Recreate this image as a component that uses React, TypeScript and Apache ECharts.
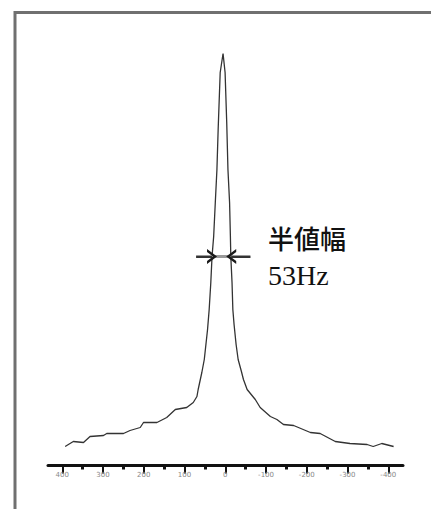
import React, { useEffect, useRef } from "react";
import * as echarts from "echarts";

// Spectrum: frequency offset (Hz) and intensity (arb.)
const freqHz = [
  393, 373, 348, 332, 299, 291, 250, 234, 209, 201, 168, 144, 123, 95, 79, 70, 67, 58, 52, 44,
  40, 36, 33, 29, 25, 21, 18, 13, 6, 1, -3, -6, -10, -12, -13, -16, -18, -21, -26, -31, -39,
  -44, -53, -73, -85, -110, -126, -142, -167, -208, -232, -269, -305, -347, -362, -383, -412,
];
const intensity = [
  19, 24, 23, 29, 30, 32, 32, 35, 38, 43, 43, 48, 56, 58, 63, 69, 76, 93, 106, 136,
  156, 183, 209, 229, 263, 296, 336, 393, 412, 393, 343, 296, 263, 229, 209, 183, 156, 141, 121, 106, 94,
  86, 76, 66, 58, 49, 46, 41, 40, 33, 32, 24, 22, 21, 19, 22, 19,
];
const tickValues = [400, 300, 200, 100, 0, -100, -200, -300, -400];

// Half-width annotation (Hz positions at half height)
const fwhmLevel = 209;
const leftArrow = [72, 33];
const rightArrow = [-61, -14];
const annoTitle = "半値幅";
const annoValue = "53Hz";

const chevron = "path://M0,10 L5,0 L10,10 L8,10 L5,4 L2,10 Z";

export default function App() {
  const ref = useRef<HTMLDivElement>(null);
  useEffect(() => {
    if (!ref.current) return;
    const chart = echarts.init(ref.current, undefined, { renderer: "svg" });
    const data = freqHz.map((f, i) => [f, intensity[i]]);
    const seg = (a: number, b: number, color: string, width: number, sym: boolean) => [
      { coord: [a, fwhmLevel], symbol: "none", lineStyle: { color, width, type: "solid" } },
      {
        coord: [b, fwhmLevel],
        symbol: sym ? chevron : "none",
        symbolSize: [15, 10],
        lineStyle: { color, width, type: "solid" },
      },
    ];
    chart.setOption({
      animation: false,
      backgroundColor: "#ffffff",
      grid: [
        { left: 48, right: 28, top: 45.5, bottom: 43.5 },
        { left: 62.3, right: 42.7, top: 45.5, bottom: 43.5 },
      ],
      xAxis: [
        {
          gridIndex: 0,
          type: "value",
          min: -435,
          max: 435,
          inverse: true,
          axisLine: { show: true, lineStyle: { color: "#111", width: 3 } },
          axisTick: { show: false },
          axisLabel: { show: false },
          splitLine: { show: false },
        },
        {
          gridIndex: 1,
          type: "value",
          min: -400,
          max: 400,
          interval: 100,
          inverse: true,
          axisLine: { show: false },
          axisTick: { show: true, length: 8, lineStyle: { color: "#111", width: 2 } },
          minorTick: { show: true, splitNumber: 2, length: 4, lineStyle: { color: "#111", width: 3 } },
          axisLabel: {
            show: true,
            fontSize: 7,
            color: "#888888",
            margin: 6,
            fontFamily: "DejaVu Sans",
            formatter: (v: number) => (tickValues.includes(v) ? String(v) : ""),
          },
          splitLine: { show: false },
          minorSplitLine: { show: false },
        },
      ],
      yAxis: [
        { gridIndex: 0, type: "value", min: 0, max: 420, show: false },
        { gridIndex: 1, type: "value", min: 0, max: 420, show: false },
      ],
      series: [
        {
          type: "line",
          xAxisIndex: 0,
          yAxisIndex: 0,
          data,
          showSymbol: false,
          lineStyle: { color: "#333", width: 1.3 },
          markLine: {
            silent: true,
            label: { show: false },
            itemStyle: { color: "#1a1a1a" },
            data: [
              seg(leftArrow[0], rightArrow[0], "#9a9a9a", 3, false),
              seg(leftArrow[0], leftArrow[1], "#1a1a1a", 1.6, true),
              seg(rightArrow[0], rightArrow[1], "#1a1a1a", 1.6, true),
            ],
          },
        },
      ],
      graphic: [
        {
          type: "polyline",
          shape: { points: [[15, 509], [15, 12.5], [431, 12.5]] },
          style: { stroke: "#707070", lineWidth: 3, fill: "none" },
          z: 10,
        },
        {
          type: "text",
          left: 268,
          top: 224,
          style: {
            text: annoTitle,
            fontSize: 26,
            fontWeight: 500,
            fontFamily: "Noto Sans CJK JP",
            fill: "#111",
          },
        },
        {
          type: "text",
          left: 268,
          top: 261,
          style: {
            text: annoValue,
            fontSize: 28,
            fontFamily: "Liberation Serif",
            fill: "#111",
          },
        },
      ],
    });
    return () => chart.dispose();
  }, []);
  return (
    <div
      ref={ref}
      style={{ position: "fixed", left: 0, top: 0, width: 431, height: 509, background: "#fff" }}
    />
  );
}
